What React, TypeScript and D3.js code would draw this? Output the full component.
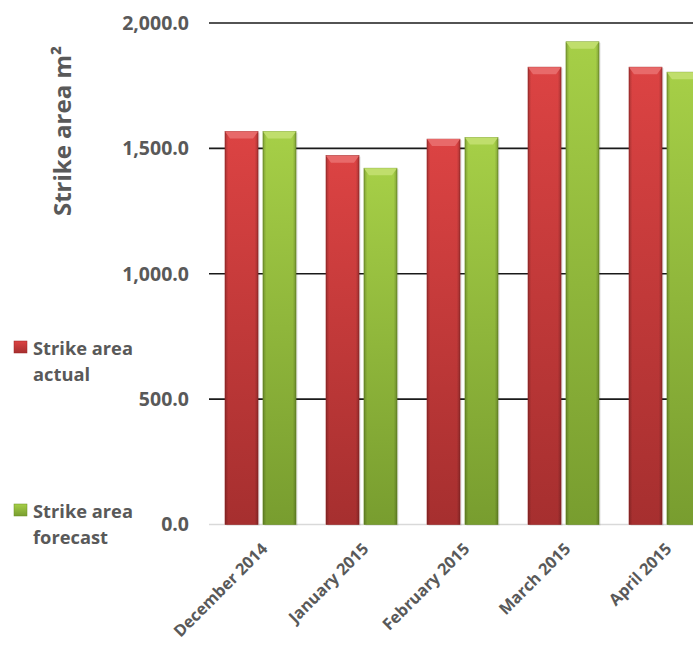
import React from "react";
import * as d3 from "d3";

const categories = ["December 2014", "January 2015", "February 2015", "March 2015", "April 2015"];
const actualValues = [1567, 1471, 1537, 1824, 1824];
const forecastValues = [1567, 1421, 1543, 1925, 1804];
const yTicks = [0, 500, 1000, 1500, 2000];
const seriesNames = ["Strike area actual", "Strike area forecast"];

const W = 693;
const H = 645;
const FONT = "'Open Sans', 'DejaVu Sans', sans-serif";
const TEXT = "#595959";

export default function App() {
  const y = d3.scaleLinear().domain([0, 2000]).range([524.5, 23]);
  const x0 = d3.scaleBand<string>().domain(categories).range([210, 715]).paddingInner(0.297).paddingOuter(0.1485);
  const x1 = d3.scaleBand<string>().domain(["a", "f"]).range([0, x0.bandwidth()]).paddingInner(0.13);
  const fmt = d3.format(",.1f");
  const series = [
    { key: "a", values: actualValues, grad: "gRed", bevel: "#e86a6a", edge: "#9c2626" },
    { key: "f", values: forecastValues, grad: "gGreen", bevel: "#c0de6c", edge: "#6a8f22" },
  ];
  const bw = x1.bandwidth();
  return (
    <svg width={W} height={H} style={{ position: "absolute", left: 0, top: 0, background: "#fff" }} fontFamily={FONT}>
      <defs>
        <linearGradient id="gRed" x1="0" y1="0" x2="0" y2="1">
          <stop offset="0" stopColor="#dc4343" />
          <stop offset="1" stopColor="#a62f2f" />
        </linearGradient>
        <linearGradient id="gGreen" x1="0" y1="0" x2="0" y2="1">
          <stop offset="0" stopColor="#a6cf47" />
          <stop offset="1" stopColor="#789d2f" />
        </linearGradient>
        <linearGradient id="gEdge" x1="0" y1="0" x2="1" y2="0">
          <stop offset="0" stopColor="#000" stopOpacity="0.22" />
          <stop offset="0.1" stopColor="#000" stopOpacity="0" />
          <stop offset="0.9" stopColor="#000" stopOpacity="0" />
          <stop offset="1" stopColor="#000" stopOpacity="0.22" />
        </linearGradient>
        <clipPath id="clip">
          <rect x={0} y={0} width={W} height={H} />
        </clipPath>
      </defs>
      <g clipPath="url(#clip)">
        <line x1={209} x2={W} y1={y(0)} y2={y(0)} stroke="#d9d9d9" strokeWidth={1.5} />
        {yTicks.filter((t) => t > 0).map((t) => (
          <line key={t} x1={209} x2={W} y1={y(t)} y2={y(t)} stroke="#1a1a1a" strokeWidth={1.6} />
        ))}
        {categories.map((c, i) => (
          <g key={c}>
            {series.map((s) => {
              const bx = (x0(c) as number) + (x1(s.key) as number);
              const top = y(s.values[i]);
              const h = y(0) - top;
              return (
                <g key={s.key}>
                  <rect x={bx + 1.5} y={top + 1} width={bw} height={h} fill="#000" opacity={0.12} />
                  <rect x={bx} y={top} width={bw} height={h} fill={`url(#${s.grad})`} stroke={s.edge} strokeWidth={0.6} />
                  <rect x={bx} y={top} width={bw} height={h} fill="url(#gEdge)" />
                  <polygon
                    points={`${bx},${top} ${bx + bw},${top} ${bx + bw - 5},${top + 7} ${bx + 5},${top + 7}`}
                    fill={s.bevel}
                  />
                </g>
              );
            })}
          </g>
        ))}
      </g>
      {yTicks.map((t) => (
        <text key={t} x={189} y={y(t)} dy="0.35em" textAnchor="end" fontSize={19.5} fontWeight="bold" fill={TEXT}>
          {fmt(t)}
        </text>
      ))}
      <text transform={`translate(71,131) rotate(-90)`} textAnchor="middle" fontSize={24} fontWeight="bold" fill={TEXT}>
        Strike area m²
      </text>
      {categories.map((c) => (
        <text
          key={c}
          transform={`translate(${(x0(c) as number) + x0.bandwidth() / 2 + 8},${550}) rotate(-45)`}
          textAnchor="end"
          fontSize={16.3}
          fontWeight="bold"
          fill={TEXT}
        >
          {c}
        </text>
      ))}
      {seriesNames.map((n, i) => {
        const ly = i === 0 ? 341 : 504;
        const words = n.split(" ");
        return (
          <g key={n}>
            <rect
              x={14}
              y={ly}
              width={13}
              height={12}
              fill={`url(#${i === 0 ? "gRed" : "gGreen"})`}
              stroke={i === 0 ? "#9c2626" : "#6a8f22"}
              strokeWidth={0.5}
            />
            <text x={33} y={ly + 13.5} fontSize={18.3} fontWeight="bold" fill={TEXT}>
              <tspan x={33}>{words.slice(0, 2).join(" ")}</tspan>
              <tspan x={33} dy={26}>{words[2]}</tspan>
            </text>
          </g>
        );
      })}
    </svg>
  );
}
